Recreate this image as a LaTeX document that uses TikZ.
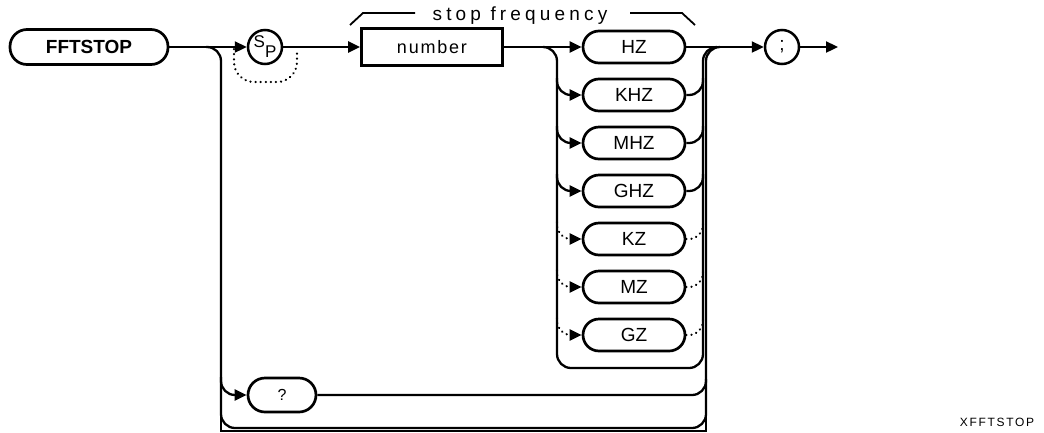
\documentclass[tikz,border=0pt]{standalone}
\usepackage{fontspec}
\setmainfont{Liberation Sans}
\newfontfamily\spfont[LetterSpace=22]{Liberation Sans}
\newfontfamily\numfont[LetterSpace=10]{Liberation Sans}
\newfontfamily\xfont[LetterSpace=14]{Liberation Sans}
\usetikzlibrary{arrows.meta}
\begin{document}
\begin{tikzpicture}[x=1pt,y=-1pt,
  conn/.style={line width=2.3pt,-{Triangle[length=12pt,width=11pt]}},
  plain/.style={line width=2.3pt},
  dotl/.style={line width=2.4pt,line cap=round,dash pattern=on 0.1pt off 5pt},
  term/.style={draw,line width=2.7pt,rounded corners=16pt,minimum width=102pt,minimum height=32pt,inner sep=0pt,font=\fontsize{19}{22}\selectfont},
  circ/.style={draw,circle,line width=2.5pt,minimum size=34pt,inner sep=0pt,font=\fontsize{17}{20}\selectfont}]
\useasboundingbox (0,0) rectangle (1044,432);
% main row
\node[draw,line width=2.7pt,rounded corners=17pt,minimum width=158pt,minimum height=35pt,inner sep=0pt,font=\fontsize{19}{22}\selectfont\bfseries] (fft) at (89,47) {FFTSTOP};
\node[circ] (sp) at (265,47) {\raisebox{5pt}{S}\raisebox{-5pt}{P}};
\node[draw,line width=2.7pt,minimum width=141pt,minimum height=37pt,inner sep=0pt,font=\fontsize{18}{22}\numfont] (num) at (432,47) {number};
\node[term] (hz) at (634,47) {HZ};
\node[term] (khz) at (634,95) {KHZ};
\node[term] (mhz) at (634,143) {MHZ};
\node[term] (ghz) at (634,191) {GHZ};
\node[term] (kz) at (634,239) {KZ};
\node[term] (mz) at (634,287) {MZ};
\node[term] (gz) at (634,335) {GZ};
\node[circ,font=\fontsize{19}{22}\selectfont] (semi) at (782,47) {;};
\node[term,minimum width=68pt,minimum height=34pt,rounded corners=17pt,font=\fontsize{16}{20}\selectfont] (q) at (282,395) {?};
\coordinate (out) at (838,47);
% stop frequency bracket
\node[anchor=base,inner sep=0pt,font=\fontsize{19}{22}\spfont] (sf) at (520,20) {stop frequency};
\draw[line width=1.8pt] (350,25) -- (363,13) -- (415,13);
\draw[line width=1.8pt] (630,13) -- (682,13) -- (695,25);
% main connectors
\draw[conn] (fft.east) -- (sp.west);
\draw[conn] (sp.east) -- (num.west);
\draw[conn] (num.east) -- (hz.west);
\draw[conn] (hz.east) -- (semi.west);
\draw[conn] (semi.east) -- (out);
% SP bypass
\draw[dotl,rounded corners=20pt] (234,49) -- (234,82) -- (297,82) -- (297,49);
% outer loop
\draw[plain,rounded corners=14pt] (206,47) -- (221,47) -- (221,428) -- (706,428) -- (706,47) -- (720,47);
\draw[plain] (221,410) -- (221,431) -- (706,431) -- (706,410);
\draw[conn,rounded corners=14pt] (221,377) |- (q.west);
\draw[plain,rounded corners=14pt] (q.east) -| (706,379);
% units loop
\draw[plain,rounded corners=14pt] (543,47) -- (557,47) -- (557,368) -- (703,368) -- (703,47) -- (717,47);
\foreach \u/\yy in {khz/95,mhz/143,ghz/191}{
  \draw[conn,rounded corners=14pt] (557,\yy-17) |- (\u.west);
  \draw[plain,rounded corners=14pt] (\u.east) -| (703,\yy-17);
}
\foreach \u/\yy in {kz/239,mz/287,gz/335}{
  \draw[dotl,rounded corners=14pt] (557,\yy-17) |- (572,\yy);
  \draw[conn] (571,\yy) -- (\u.west);
  \draw[dotl,rounded corners=14pt] (\u.east) -| (703,\yy-17);
}
\node[inner sep=0pt,font=\fontsize{12}{14}\xfont] (x) at (997,422) {XFFTSTOP};
\end{tikzpicture}
\end{document}
